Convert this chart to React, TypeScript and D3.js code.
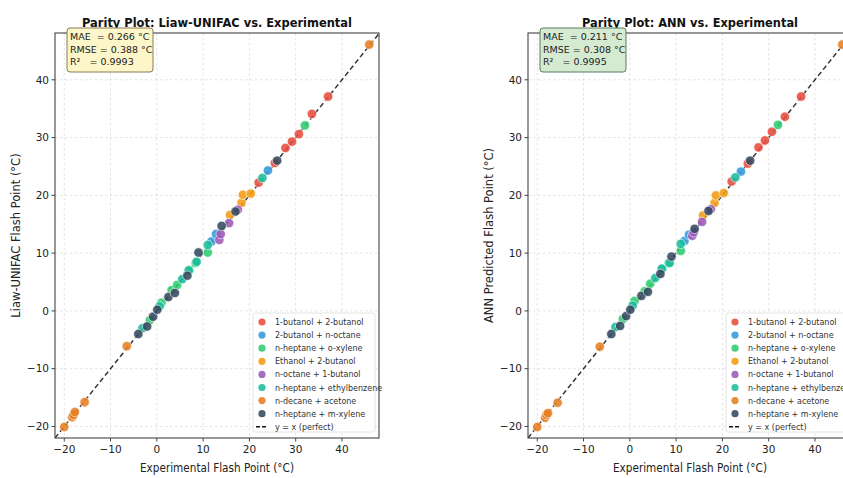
import React from "react";
import * as d3 from "d3";

const seriesNames = [
  "1-butanol + 2-butanol",
  "2-butanol + n-octane",
  "n-heptane + o-xylene",
  "Ethanol + 2-butanol",
  "n-octane + 1-butanol",
  "n-heptane + ethylbenzene",
  "n-decane + acetone",
  "n-heptane + m-xylene",
];
const seriesColors = ["#e74c3c", "#3498db", "#2ecc71", "#f39c12", "#9b59b6", "#1abc9c", "#e67e22", "#34495e"];

// experimental flash points per mixture
const expX = [
  [22.0, 25.5, 27.8, 29.2, 30.7, 33.5, 37.0],
  [11.8, 12.8, 24.0],
  [-1.5, 1.0, 3.2, 4.4, 7.0, 8.4, 11.0, 32.0],
  [15.8, 18.3, 18.6, 20.3],
  [13.5, 13.8, 15.6, 17.5],
  [-3.1, 0.6, 5.5, 6.9, 8.6, 11.0, 22.8],
  [-20.0, -18.3, -18.0, -17.7, -15.6, -6.5, 45.9],
  [-4.0, -2.1, -0.8, 0.1, 2.5, 3.9, 6.6, 9.0, 14.0, 17.0, 26.0],
];
// Liaw-UNIFAC predictions
const liawY = [
  [22.2, 25.6, 28.2, 29.3, 30.6, 34.1, 37.1],
  [12.0, 13.3, 24.3],
  [-1.6, 1.4, 3.6, 4.5, 7.1, 8.3, 10.1, 32.1],
  [16.6, 18.7, 20.1, 20.3],
  [12.3, 13.3, 15.2, 17.5],
  [-3.0, 0.8, 5.5, 7.0, 8.5, 11.4, 23.0],
  [-20.1, -18.4, -18.0, -17.5, -15.8, -6.1, 46.1],
  [-4.0, -2.7, -1.0, 0.2, 2.4, 3.1, 6.1, 10.1, 14.7, 17.2, 26.0],
];
// ANN predictions
const annY = [
  [22.4, 25.5, 28.3, 29.5, 31.0, 33.6, 37.1],
  [12.1, 13.2, 24.1],
  [-1.4, 1.7, 3.4, 4.7, 7.2, 8.3, 10.4, 32.2],
  [16.5, 18.7, 20.0, 20.4],
  [13.0, 13.6, 15.4, 17.6],
  [-2.8, 0.9, 5.7, 7.3, 8.3, 11.6, 23.1],
  [-20.1, -18.5, -18.0, -17.7, -15.9, -6.2, 46.1],
  [-4.0, -2.6, -0.9, 0.2, 2.6, 3.3, 6.4, 9.4, 14.2, 17.3, 26.0],
];
const tickValues = [-20, -10, 0, 10, 20, 30, 40];
const liawStats = ["MAE  = 0.266 °C", "RMSE = 0.388 °C", "R²   = 0.9993"];
const annStats = ["MAE  = 0.211 °C", "RMSE = 0.308 °C", "R²   = 0.9995"];

const FONT = "DejaVu Sans, sans-serif";

function Panel({ left, title, titleLen, ylabel, preds, stats, boxFill, boxStroke, id }) {
  const x = d3.scaleLinear().domain([-22, 48]).range([left, left + 324]);
  const y = d3.scaleLinear().domain([-22, 48.1]).range([438, 33]);
  const [x0, x1] = x.range();
  const [y1, y0] = y.range();
  const cx = (x0 + x1) / 2;
  const legX = left + 198;
  return (
    <g>
      <defs>
        <clipPath id={id}>
          <rect x={x0} y={y0} width={x1 - x0} height={y1 - y0} />
        </clipPath>
      </defs>
      {tickValues.map((t) => (
        <g key={"g" + t}>
          <line x1={x(t)} x2={x(t)} y1={y0} y2={y1} stroke="#b0b0b0" strokeOpacity={0.5} strokeDasharray="2.5,2.5" strokeWidth={0.7} />
          <line x1={x0} x2={x1} y1={y(t)} y2={y(t)} stroke="#b0b0b0" strokeOpacity={0.5} strokeDasharray="2.5,2.5" strokeWidth={0.7} />
        </g>
      ))}
      <line
        x1={x(-22)} y1={y(-22)} x2={x(48.1)} y2={y(48.1)}
        stroke="#111" strokeOpacity={0.85} strokeWidth={1.5} strokeDasharray="5,3"
        clipPath={`url(#${id})`}
      />
      <g clipPath={`url(#${id})`}>
        {expX.map((xs, si) =>
          xs.map((v, i) => (
            <circle key={si + "-" + i} cx={x(v)} cy={y(preds[si][i])} r={4.7}
              fill={seriesColors[si]} fillOpacity={0.88} stroke="#fff" strokeWidth={0.6} />
          ))
        )}
      </g>
      <rect x={x0} y={y0} width={x1 - x0} height={y1 - y0} fill="none" stroke="#444" strokeWidth={1.1} />
      {tickValues.map((t) => (
        <g key={"t" + t}>
          <line x1={x(t)} x2={x(t)} y1={y1} y2={y1 + 3.5} stroke="#444" />
          <text x={x(t)} y={y1 + 15} textAnchor="middle" fontSize={10.5} fontFamily={FONT} fill="#222">{t < 0 ? "\u2212" + Math.abs(t) : t}</text>
          <line x1={x0 - 3.5} x2={x0} y1={y(t)} y2={y(t)} stroke="#444" />
          <text x={x0 - 6} y={y(t) + 3.8} textAnchor="end" fontSize={10.5} fontFamily={FONT} fill="#222">{t < 0 ? "\u2212" + Math.abs(t) : t}</text>
        </g>
      ))}
      <text x={cx} y={27} textAnchor="middle" fontSize={13} fontWeight="bold" fontFamily={FONT} fill="#111"
        textLength={titleLen} lengthAdjust="spacingAndGlyphs">{title}</text>
      <text x={cx} y={472} textAnchor="middle" fontSize={11.5} fontFamily={FONT} fill="#222"
        textLength={154} lengthAdjust="spacingAndGlyphs">Experimental Flash Point (°C)</text>
      <text transform={`translate(${left - 35},${(y0 + y1) / 2}) rotate(-90)`} textAnchor="middle" fontSize={11.5} fontFamily={FONT} fill="#222">{ylabel}</text>
      <rect x={left + 12} y={28} width={86} height={44} rx={3} fill={boxFill} stroke={boxStroke} strokeWidth={1} />
      {stats.map((s, i) => (
        <text key={s} x={left + 15} y={40 + i * 12.5} fontSize={9.5} fontFamily={FONT} fill="#222" style={{ whiteSpace: "pre" }}>{s}</text>
      ))}
      <rect x={legX} y={313} width={122} height={119} rx={2} fill="#fff" fillOpacity={0.9} stroke="#ddd" strokeWidth={0.8} />
      {seriesNames.map((n, i) => (
        <g key={n}>
          <circle cx={legX + 9} cy={322 + i * 13.1} r={3.6} fill={seriesColors[i]} fillOpacity={0.88} />
          <text x={legX + 22} y={322 + i * 13.1 + 3} fontSize={8} fontFamily={FONT} fill="#333">{n}</text>
        </g>
      ))}
      <line x1={legX + 3} x2={legX + 15} y1={322 + 8 * 13.1} y2={322 + 8 * 13.1} stroke="#111" strokeWidth={1.4} strokeDasharray="4,2" />
      <text x={legX + 22} y={322 + 8 * 13.1 + 3} fontSize={8} fontFamily={FONT} fill="#333">y = x (perfect)</text>
    </g>
  );
}

export default function App() {
  return (
    <svg width={843} height={478} style={{ position: "absolute", left: 0, top: 0, background: "#fff" }}>
      <rect width={843} height={478} fill="#fff" />
      <Panel id="clipA" left={55} title="Parity Plot: Liaw-UNIFAC vs. Experimental" titleLen={270}
        ylabel="Liaw-UNIFAC Flash Point (°C)" preds={liawY} stats={liawStats} boxFill="#fdf6c8" boxStroke="#8a7a55" />
      <Panel id="clipB" left={528} title="Parity Plot: ANN vs. Experimental" titleLen={216}
        ylabel="ANN Predicted Flash Point (°C)" preds={annY} stats={annStats} boxFill="#d4ebd2" boxStroke="#5a7a5a" />
    </svg>
  );
}
